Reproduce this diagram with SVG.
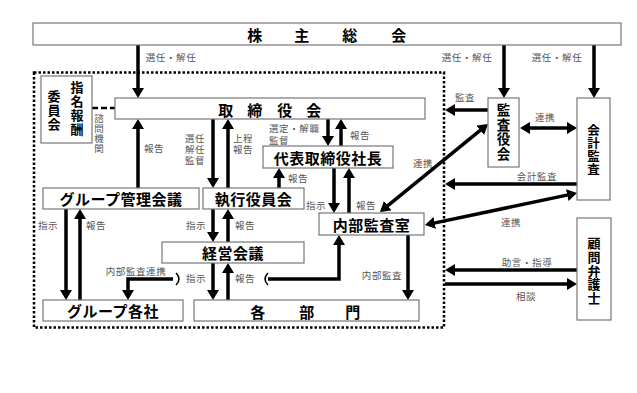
<svg xmlns="http://www.w3.org/2000/svg" width="637" height="393" viewBox="0 0 637 393">
<style>
.box{fill:#fff;stroke:#777;stroke-width:1.2}
.t{font-family:"Noto Sans CJK JP","Noto Sans CJK SC",sans-serif;font-weight:bold;font-size:15px;fill:#000;text-anchor:middle;dominant-baseline:central;letter-spacing:0.5px}
.v{font-family:"Noto Sans CJK JP","Noto Sans CJK SC",sans-serif;font-weight:bold;font-size:12.5px;fill:#000;text-anchor:middle;writing-mode:vertical-rl;text-orientation:upright}
.l{font-family:"Liberation Sans","Noto Sans CJK JP","Noto Sans CJK SC",sans-serif;font-size:9.5px;fill:#555;text-anchor:middle;dominant-baseline:central;letter-spacing:0.6px}
.lv{font-family:"Noto Sans CJK JP","Noto Sans CJK SC",sans-serif;font-size:9.5px;fill:#555;text-anchor:middle;writing-mode:vertical-rl;text-orientation:upright;letter-spacing:0.5px}
.a{fill:none;stroke:#000;stroke-width:3.5}
.one{marker-end:url(#ah)}
.two{marker-start:url(#ah);marker-end:url(#ah)}
</style>
<defs>
<marker id="ah" markerUnits="userSpaceOnUse" markerWidth="10" markerHeight="12" viewBox="0 0 10 12" refX="7" refY="6" orient="auto-start-reverse">
<path d="M0,0 L10,6 L0,12 z" fill="#000"/>
</marker>
</defs>
<rect width="637" height="393" fill="#fff"/>
<rect x="34" y="72.5" width="410" height="255" fill="none" stroke="#000" stroke-width="2.5" stroke-dasharray="2.5 2"/>

<g id="connectors">
<path class="a one" d="M138,45 V95"/>
<path class="a one" d="M504,45 V95"/>
<path class="a one" d="M594,45 V95"/>
<path class="a one" d="M138,188 V122"/>
<path class="a one" d="M213,119 V185"/>
<path class="a one" d="M228,188 V122"/>
<path class="a one" d="M328,119 V143"/>
<path class="a one" d="M341,146 V122"/>
<path class="a one" d="M279,188 V171"/>
<path class="a one" d="M334,168 V210"/>
<path class="a one" d="M349,213 V171"/>
<path class="a two" d="M382.3,210.1 L485.7,125.9"/>
<path class="a one" d="M488,110 H448"/>
<path class="a two" d="M523,128 H574"/>
<path class="a one" d="M577,184 H448"/>
<path class="a two" d="M427.9,224.4 L574.1,193.6"/>
<path class="a one" d="M577,270 H448"/>
<path class="a one" d="M445,284 H574"/>
<path class="a one" d="M66,209 V297"/>
<path class="a one" d="M80,300 V212"/>
<path class="a one" d="M213,209 V239"/>
<path class="a one" d="M228,242 V212"/>
<path class="a one" d="M213,263 V297"/>
<path class="a one" d="M228,300 V266"/>
<path class="a one" d="M408,235 V297"/>
<path class="a one" d="M268,279 H339 V238"/>
<path class="a one" d="M173,279 H128 V297"/>
<path d="M176,273 Q182,279 176,285" fill="none" stroke="#000" stroke-width="1.5"/>
<path d="M268,273 Q262,279 268,285" fill="none" stroke="#000" stroke-width="1.5"/>
<path d="M92,108 H115" fill="none" stroke="#000" stroke-width="2.5" stroke-dasharray="6 3"/>
</g>

<g id="kabunushi">
<rect class="box" x="33" y="23" width="588" height="22"/>
<text class="t" y="34"><tspan x="255">株</tspan><tspan x="302">主</tspan><tspan x="350">総</tspan><tspan x="399">会</tspan></text>
</g>
<g id="shimei">
<rect class="box" x="41" y="76" width="51" height="67"/>
<text class="v" x="77" y="109" style="font-size:13px;letter-spacing:1px">指名報酬</text>
<text class="v" x="54" y="111" style="font-size:13px;letter-spacing:1px">委員会</text>
</g>
<g id="torishimariyakukai">
<rect class="box" x="115" y="98" width="310" height="21"/>
<text class="t" y="108.5"><tspan x="226">取</tspan><tspan x="255">締</tspan><tspan x="285">役</tspan><tspan x="314">会</tspan></text>
</g>
<g id="daihyo">
<rect class="box" x="263" y="146" width="130" height="22"/>
<text class="t" x="328" y="157">代表取締役社長</text>
</g>
<g id="group-kanri">
<rect class="box" x="43" y="188" width="156" height="21"/>
<text class="t" x="121" y="198.5">グループ管理会議</text>
</g>
<g id="shikko">
<rect class="box" x="203" y="188" width="101" height="21"/>
<text class="t" x="253.5" y="198.5">執行役員会</text>
</g>
<g id="naibu-kansa">
<rect class="box" x="319" y="213" width="105" height="22"/>
<text class="t" x="371.5" y="224">内部監査室</text>
</g>
<g id="keiei">
<rect class="box" x="162" y="242" width="142" height="21"/>
<text class="t" x="233" y="252.5">経営会議</text>
</g>
<g id="group-kakusha">
<rect class="box" x="43" y="300" width="140" height="21"/>
<text class="t" x="113" y="310.5">グループ各社</text>
</g>
<g id="kakubumon">
<rect class="box" x="194" y="300" width="225" height="21"/>
<text class="t" y="310.5"><tspan x="258">各</tspan><tspan x="307">部</tspan><tspan x="353">門</tspan></text>
</g>
<g id="kansayakukai">
<rect class="box" x="488" y="98" width="31" height="69"/>
<text class="v" x="503.5" y="132.5" style="font-size:13.5px;letter-spacing:1.2px">監査役会</text>
</g>
<g id="kaikei-kansa">
<rect class="box" x="577" y="98" width="33" height="102"/>
<text class="v" x="593.5" y="150" style="letter-spacing:0.5px">会計監査</text>
</g>
<g id="komon">
<rect class="box" x="577" y="218" width="34" height="102"/>
<text class="v" x="594" y="271" style="font-size:13px;letter-spacing:0.8px">顧問弁護士</text>
</g>

<g id="labels">
<text class="l" x="171" y="57">選任・解任</text>
<text class="l" x="467" y="57">選任・解任</text>
<text class="l" x="557" y="57">選任・解任</text>
<text class="l" x="154" y="148">報告</text>
<text class="lv" x="99" y="133.5">諮問機関</text>
<text class="l"><tspan x="195" y="138">選任</tspan><tspan x="195" y="149">解任</tspan><tspan x="195" y="160">監督</tspan></text>
<text class="l"><tspan x="243" y="138">上程</tspan><tspan x="243" y="149">報告</tspan></text>
<text class="l" style="text-anchor:start"><tspan x="269" y="128">選定・解職</tspan><tspan x="269" y="140">監督</tspan></text>
<text class="l" x="360" y="135">報告</text>
<text class="l" x="298" y="178">報告</text>
<text class="l" x="316" y="205">指示</text>
<text class="l" x="366" y="205">報告</text>
<text class="l" x="423" y="163">連携</text>
<text class="l" x="465" y="97">監査</text>
<text class="l" x="545" y="117">連携</text>
<text class="l" x="537" y="176">会計監査</text>
<text class="l" x="511" y="222">連携</text>
<text class="l" x="527" y="262">助言・指導</text>
<text class="l" x="526" y="296">相談</text>
<text class="l" x="48" y="225">指示</text>
<text class="l" x="96" y="225">報告</text>
<text class="l" x="196" y="225">指示</text>
<text class="l" x="245" y="225">報告</text>
<text class="l" x="196" y="278">指示</text>
<text class="l" x="245" y="278">報告</text>
<text class="l" x="136" y="271">内部監査連携</text>
<text class="l" x="382" y="275">内部監査</text>
</g>
</svg>
